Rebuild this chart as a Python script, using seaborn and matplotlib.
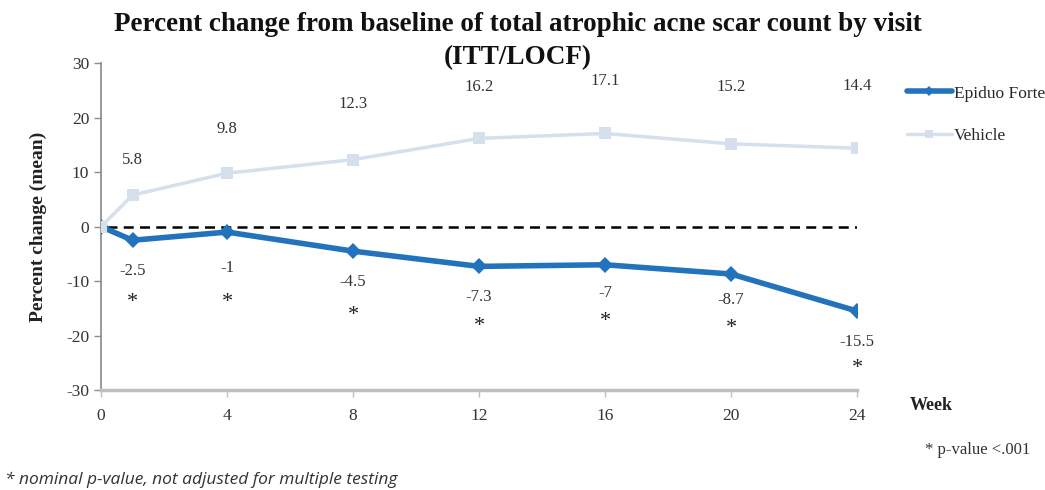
"""
Percent change from baseline of atrophic acne scar count, recreated with seaborn.
"""

import numpy as np
import pandas as pd
import matplotlib
matplotlib.use("Agg")
import matplotlib.pyplot as plt
import seaborn as sns

weeks = [0, 1, 4, 8, 12, 16, 20, 24]
epiduo = [0, -2.5, -1, -4.5, -7.3, -7, -8.7, -15.5]
vehicle = [0, 5.8, 9.8, 12.3, 16.2, 17.1, 15.2, 14.4]
week_ticks = [0, 4, 8, 12, 16, 20, 24]
y_ticks = [-30, -20, -10, 0, 10, 20, 30]

# label offsets (points) above vehicle / below epiduo, as placed in the source chart
veh_label_dy = [25, 32, 40, 37, 38, 41, 45]
epi_label_dy = [22, 26, 22, 22, 20, 19, 22]
star_dy = [45, 51, 46, 43, 41, 39, 41]

EPI_COLOR = "#2373BC"
VEH_COLOR = "#D6DFEC"
SERIF = "Liberation Serif"

sns.set_theme(style="white")
plt.rcParams["font.family"] = [SERIF, "DejaVu Serif"]
plt.rcParams["axes.unicode_minus"] = False

df = pd.DataFrame({
    "week": weeks * 2,
    "change": epiduo + vehicle,
    "group": ["Epiduo Forte"] * len(weeks) + ["Vehicle"] * len(weeks),
})

fig = plt.figure(figsize=(10.45, 4.9), dpi=100)
ax = fig.add_axes([0.0967, 0.204, 0.7235, 0.667])

ax.plot([0.2, 24], [0, 0], ls=(0, (4, 2.5)), color="black", lw=1.8, zorder=1)

sns.lineplot(data=df[df.group == "Epiduo Forte"], x="week", y="change", ax=ax,
             color=EPI_COLOR, lw=4, marker="D", markersize=8,
             markeredgewidth=0, label="Epiduo Forte", zorder=3)
sns.lineplot(data=df[df.group == "Vehicle"], x="week", y="change", ax=ax,
             color=VEH_COLOR, lw=2.5, marker="s", markersize=9,
             markeredgewidth=0, label="Vehicle", zorder=4)

# value labels
for w, v, dy in zip(weeks[1:], vehicle[1:], veh_label_dy):
    ax.annotate(f"{v:g}", (w, v), xytext=(0, dy), textcoords="offset points",
                ha="center", va="center", fontsize=12, color="#333333")
for w, v, dy, sdy in zip(weeks[1:], epiduo[1:], epi_label_dy, star_dy):
    ax.annotate(f"{v:g}", (w, v), xytext=(0, -dy), textcoords="offset points",
                ha="center", va="center", fontsize=12, color="#333333")
    ax.annotate("*", (w, v), xytext=(0, -sdy), textcoords="offset points",
                ha="center", va="center", fontsize=16, color="#222222")

ax.set_xlim(0, 24)
ax.set_ylim(-30, 30)
ax.set_xticks(week_ticks)
ax.set_yticks(y_ticks)
ax.tick_params(axis="both", labelsize=12.5, colors="#333333", length=5,
               width=1, direction="out", bottom=True, left=True)
ax.tick_params(axis="x", pad=8, color="#BFBFBF")
ax.tick_params(axis="y", color="#8C8C8C")
for side in ["top", "right"]:
    ax.spines[side].set_visible(False)
ax.spines["left"].set_color("#8C8C8C")
ax.spines["bottom"].set_color("#BFBFBF")
ax.spines["bottom"].set_linewidth(2.5)
ax.set_xlabel("")
ax.set_ylabel("Percent change (mean)", fontsize=14, fontweight="bold",
              color="#222222", labelpad=14)

handles, labels = ax.get_legend_handles_labels()
order = [labels.index("Epiduo Forte"), labels.index("Vehicle")]
ax.legend([handles[i] for i in order], [labels[i] for i in order],
          loc="upper left", bbox_to_anchor=(1.045, 0.98), frameon=False,
          fontsize=12.5, handlelength=2.6, handletextpad=0.1, labelspacing=1.5,
          markerscale=0.7)

fig.text(518 / 1045, 0.975, "Percent change from baseline of total atrophic acne scar count by visit\n(ITT/LOCF)",
         ha="center", va="top", fontsize=19.5, fontweight="bold", color="#111111",
         linespacing=1.4)
fig.text(910 / 1045, 1 - 405 / 490, "Week", ha="left", va="center",
         fontsize=13, fontweight="bold", color="#222222")
fig.text(925 / 1045, 1 - 450 / 490, "* p-value <.001", ha="left", va="center",
         fontsize=12, color="#333333")
fig.text(5 / 1045, 1 - 480 / 490, "* nominal p-value, not adjusted for multiple testing",
         ha="left", va="center", fontsize=12.5, style="italic", color="#333333",
         family=["Open Sans", "DejaVu Sans"])

fig.savefig("out.png", dpi=100)
